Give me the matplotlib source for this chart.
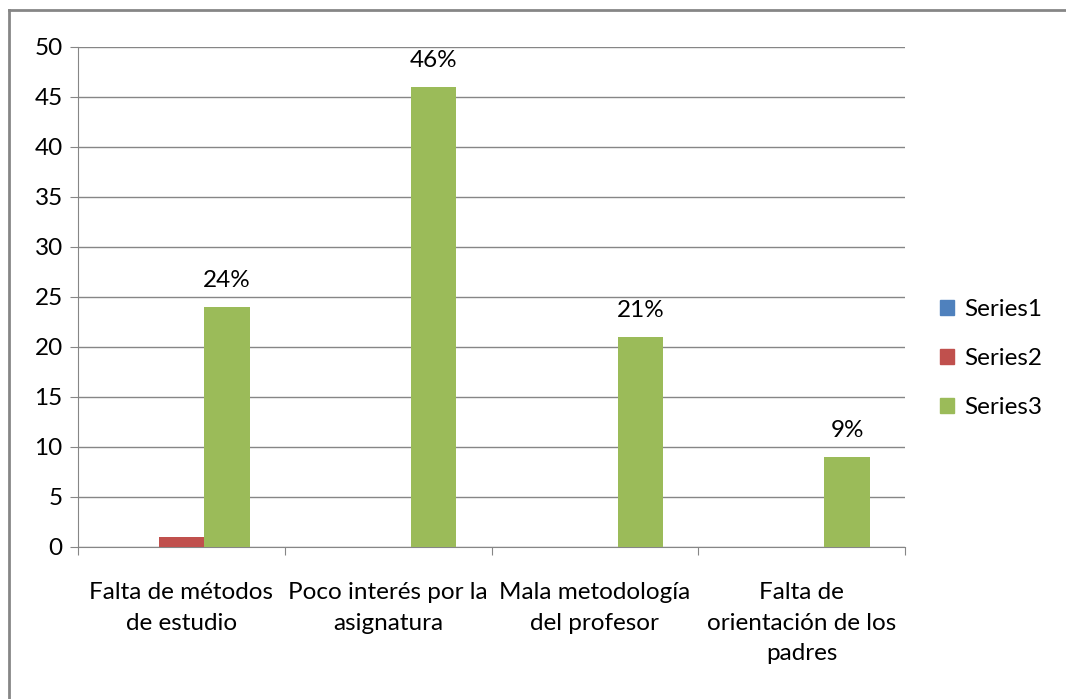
import matplotlib.pyplot as plt
from matplotlib.patches import Patch
from matplotlib.lines import Line2D
import numpy as np

plt.rcParams['font.family'] = ['Lato', 'DejaVu Sans']

categories = ['Falta de métodos\nde estudio', 'Poco interés por la\nasignatura',
              'Mala metodología\ndel profesor', 'Falta de\norientación de los\npadres']
series_names = ['Series1', 'Series2', 'Series3']
series1 = [0, 0, 0, 0]
series2 = [1, 0, 0, 0]
series3 = [24, 46, 21, 9]
labels3 = ['24%', '46%', '21%', '9%']
colors = ['#4f81bd', '#c0504d', '#9bbb59']

fs = 17.5
fig = plt.figure(figsize=(10.66, 6.99), dpi=100)
ax = fig.add_axes([0.0732, 0.2175, 0.7758, 0.7153])

x = np.arange(len(categories))
w = 0.22
for i, (vals, c) in enumerate(zip([series1, series2, series3], colors)):
    bars = ax.bar(x + (i - 1) * w, vals, width=w, color=c, zorder=3)
bars3 = bars
for b, lab in zip(bars3, labels3):
    ax.text(b.get_x() + b.get_width() / 2, b.get_height() + 1.6, lab,
            ha='center', va='bottom', fontsize=fs)

ax.set_xlim(-0.5, 3.5)
ax.set_ylim(0, 50)
ax.set_yticks(range(0, 51, 5))
ax.yaxis.grid(True, color='#868686', linewidth=1)
ax.set_axisbelow(True)
for s in ['top', 'right']:
    ax.spines[s].set_visible(False)
for s in ['left', 'bottom']:
    ax.spines[s].set_color('#868686')
ax.tick_params(axis='y', length=6, color='#868686', labelsize=fs, pad=5)
ax.set_xticks(np.arange(-0.5, 4.0, 1.0), minor=False)
ax.set_xticklabels([])
ax.tick_params(axis='x', length=6, color='#868686')
ax.set_xticks(x, minor=True)
ax.set_xticklabels(categories, minor=True, fontsize=fs, linespacing=1.58)
ax.tick_params(axis='x', which='minor', length=0, pad=25)

handles = [Patch(color=c) for c in colors]
leg = fig.legend(handles, series_names, loc='center left', bbox_to_anchor=(0.861, 0.487),
                 frameon=False, fontsize=fs, handlelength=0.6, handleheight=0.6,
                 labelspacing=1.15, handletextpad=0.4)

# outer chart border (only top and left visible in the crop)
fig.add_artist(Line2D([0.0085, 0.0085], [0, 0.986], transform=fig.transFigure,
                      color='#868686', linewidth=2))
fig.add_artist(Line2D([0.0085, 1.0], [0.986, 0.986], transform=fig.transFigure,
                      color='#868686', linewidth=2))

fig.savefig('out.png', dpi=100)
